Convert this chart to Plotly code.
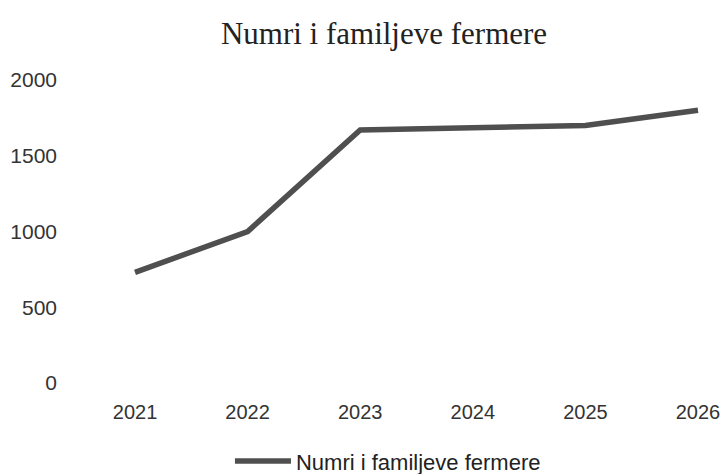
import plotly.graph_objects as go

years = ["2021", "2022", "2023", "2024", "2025", "2026"]
families = [730, 1000, 1670, 1685, 1700, 1800]
series_name = "Numri i familjeve fermere"
title_text = "Numri i familjeve fermere"
y_ticks = [0, 500, 1000, 1500, 2000]

fig = go.Figure()
fig.add_trace(go.Scatter(
    x=years, y=families, mode="lines", name=series_name,
    line=dict(color="#4f4f4f", width=5.5),
))

W, H = 721, 474
fig.update_layout(
    width=W, height=H,
    paper_bgcolor="white", plot_bgcolor="white",
    margin=dict(l=75, r=6, t=80, b=91, autoexpand=False),
    title=dict(text=title_text, x=384 / W, xref="container", xanchor="center",
               y=1 - 33 / H, yref="container", yanchor="middle",
               font=dict(family="Liberation Serif", size=31, color="#222222")),
    showlegend=True,
    legend=dict(orientation="h", x=0.489, xanchor="center", y=-0.258, yanchor="middle",
                font=dict(family="Liberation Sans", size=22, color="#222222"),
                itemwidth=56),
    font=dict(family="Liberation Sans", color="#333333"),
)
fig.update_xaxes(type="category", range=[-0.533, 5.151], showgrid=False, zeroline=False,
                 showline=False, ticks="", ticklabelstandoff=15, automargin=False,
                 tickfont=dict(family="Liberation Sans", size=20, color="#333333"))
fig.update_yaxes(range=[0, 2000], tickvals=y_ticks, showgrid=False, zeroline=False,
                 showline=False, ticks="", ticklabelstandoff=17, automargin=False,
                 tickfont=dict(family="Liberation Sans", size=21, color="#333333"))

fig.write_html("out.html", config={"displayModeBar": False},
               post_script="document.body.style.margin='0';document.body.style.overflow='hidden';")
